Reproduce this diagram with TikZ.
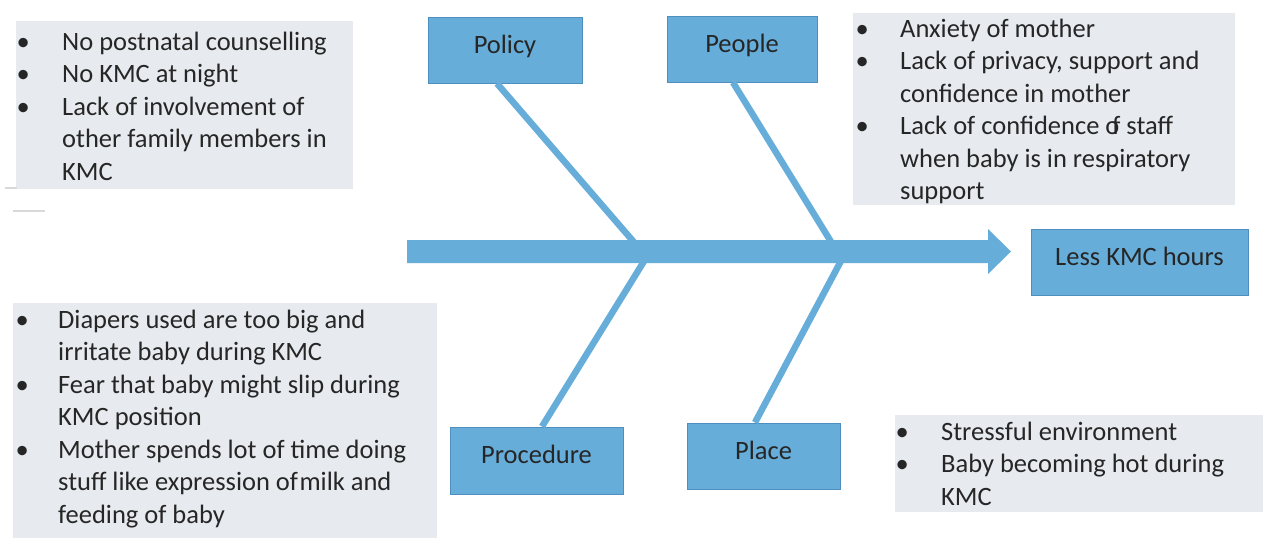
\documentclass[tikz,border=0pt]{standalone}
\usepackage{fontspec}
\setmainfont{Carlito}
\usepackage{array}
\definecolor{fishblue}{HTML}{66ADDA}
\definecolor{fishedge}{HTML}{4E8FC0}
\definecolor{notegray}{HTML}{E7EAEE}
\definecolor{ink}{HTML}{262626}
\newcommand\blt{\makebox[0pt]{\textbullet}}
\begin{document}
\begin{tikzpicture}[x=1pt,y=-1pt,
  catbox/.style={draw=fishedge, line width=1pt, fill=fishblue, inner sep=0pt,
    text height=14pt, text depth=8pt, text=ink,
    font=\fontsize{26.5}{32.5}\selectfont},
  notebox/.style={fill=notegray, inner sep=0pt, anchor=north west},
  notetext/.style={anchor=base west, inner sep=0pt, text=ink,
    font=\fontsize{26.5}{32.5}\selectfont},
  bone/.style={draw=fishblue, line width=6.5pt}]
\useasboundingbox (0,0) rectangle (1263,538);
\fill[white] (0,0) rectangle (1263,538);

% note panels
\node[notebox, minimum width=337pt, minimum height=168pt] (tlnote) at (16,21) {};
\node[notebox, minimum width=382pt, minimum height=192pt] (trnote) at (853,13) {};
\node[notebox, minimum width=424pt, minimum height=235pt] (blnote) at (13,303) {};
\node[notebox, minimum width=368pt, minimum height=97pt] (brnote) at (895,415) {};

% stray marks at the left edge
\draw[black!15, line width=1.5pt] (5,188) -- (17,188);
\draw[black!15, line width=1.5pt] (13,211) -- (45,211);

\node[notetext] (tltext) at (23,50) {\begin{tabular}[t]{@{}p{39pt}@{}l@{}}
\blt & No postnatal counselling\\
\blt & No KMC at night\\
\blt & Lack of involvement of\\
     & other family members in\\
     & KMC
\end{tabular}};

\node[notetext] (trtext) at (862,37) {\begin{tabular}[t]{@{}p{38pt}@{}l@{}}
\blt & Anxiety of mother\\
\blt & Lack of privacy, support and\\
     & confidence in mother\\
\blt & Lack of confidence o\kern-7pt f staff\\
     & when baby is in respiratory\\
     & support
\end{tabular}};

\node[notetext] (bltext) at (22,328) {\begin{tabular}[t]{@{}p{36pt}@{}l@{}}
\blt & Diapers used are too big and\\
     & irritate baby during KMC\\
\blt & Fear that baby might slip during\\
     & KMC position\\
\blt & Mother spends lot of time doing\\
     & stuff like expression of\kern1.5pt milk and\\
     & feeding of baby
\end{tabular}};

\node[notetext] (brtext) at (902,440) {\begin{tabular}[t]{@{}p{39pt}@{}l@{}}
\blt & Stressful environment\\
\blt & Baby becoming hot during\\
     & KMC
\end{tabular}};

% category boxes
\node[catbox, minimum width=154pt, minimum height=66pt] (policy) at (505,50) {Policy};
\node[catbox, minimum width=150pt, minimum height=66pt] (people) at (742,49) {People};
\node[catbox, minimum width=173pt, minimum height=67pt] (procedure) at (536.5,460.5) {Procedure};
\node[catbox, minimum width=153pt, minimum height=66pt] (place) at (763.5,456) {Place};
\node[catbox, minimum width=217pt, minimum height=66pt] (effect) at (1139.5,262) {Less KMC hours};

% joints on the spine
\coordinate (jpol) at (642,251.5);
\coordinate (jpeo) at (837,251.5);
\coordinate (jpro) at (650,251.5);
\coordinate (jpla) at (846,251.5);

% bones
\draw[bone] ([xshift=-8pt]policy.south) -- (jpol);
\draw[bone] ([xshift=-9pt]people.south) -- (jpeo);
\draw[bone] ([xshift=5.5pt]procedure.north) -- (jpro);
\draw[bone] ([xshift=-8.5pt]place.north) -- (jpla);

% spine arrow
\coordinate (tail) at (407,251.5);
\coordinate (tip) at (1011,251.5);
\fill[fishblue] (tail) ++(0,-11.5) -- (988,240) -- (988,229) -- (tip)
  -- (988,274) -- (988,263) -- (407,263) -- cycle;
\end{tikzpicture}
\end{document}
